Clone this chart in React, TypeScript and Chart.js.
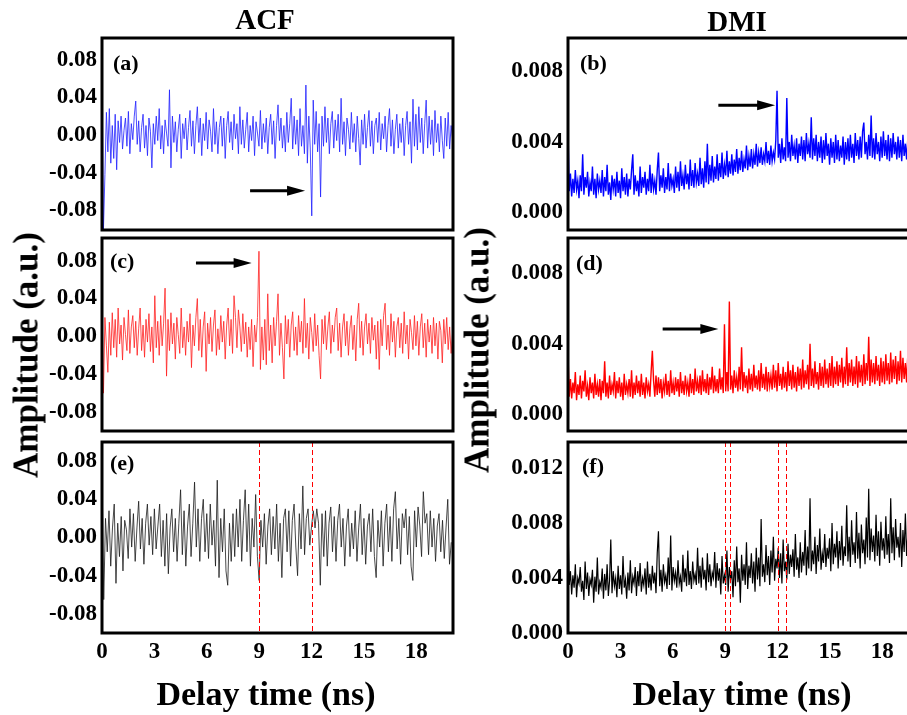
import React, { useEffect, useRef } from 'react';
import { Chart, registerables } from 'chart.js';

Chart.register(...registerables);

const FONT = "'Liberation Serif', 'Times New Roman', serif";

// ---------- axis ticks ----------
const TIME_TICKS = [0, 3, 6, 9, 12, 15, 18];
const ACF_TICKS = [-0.08, -0.04, 0, 0.04, 0.08];
const DMI_TICKS_BD = [0, 0.004, 0.008];
const DMI_TICKS_F = [0, 0.004, 0.008, 0.012];
const TIME_MAX = 20.1;

// ---------- sampling steps (ns per sample) ----------
const ACF_DT = 0.084;
const ACF_E_DT = 0.1;
const DMI_DT = 0.07;

// ---------- series values ----------
const ACF_A = [
  .070,-.100,-.042,.024,-.018,.028,-.030,.010,-.025,.022,
  -.037,.015,-.008,.020,-.015,.005,.018,-.012,.025,-.020,
  .012,-.005,.020,.036,-.010,.015,-.018,.008,.022,-.014,
  .010,-.022,.018,.004,-.035,.012,-.010,.020,-.006,.028,
  -.015,.010,-.020,.016,.002,-.012,.048,-.035,.020,-.008,
  .014,-.018,.006,.022,-.025,.012,-.004,.018,-.016,.008,
  .026,-.012,.015,-.020,.010,.030,-.008,.018,-.022,.012,
  -.006,.024,-.015,.016,.004,-.018,.028,-.010,.014,-.020,
  .008,.020,-.012,.018,-.025,.010,.025,-.008,.014,-.016,
  .022,-.004,.012,-.020,.030,-.010,.016,-.014,.006,.024,
  -.018,.010,-.006,.020,-.022,.014,.002,-.012,.026,-.015,
  .012,-.008,.018,-.020,.008,.022,-.010,.015,-.025,.010,
  .032,-.006,.018,-.014,.010,-.018,.024,-.008,.012,.039,
  -.015,.020,-.010,.016,-.022,.028,-.012,.010,-.020,.053,
  -.030,.020,-.015,-.086,.037,-.010,.025,-.018,.012,-.066,
  .020,-.012,.030,-.008,.018,-.020,.012,.025,-.014,.016,
  -.006,.022,-.018,.039,-.010,.014,-.022,.018,.006,-.015,
  .024,-.008,.012,-.018,.020,-.004,-.032,.016,-.010,.022,
  -.014,.008,.026,-.012,.015,-.020,.010,.018,-.008,.024,
  -.016,.012,-.004,.020,-.018,.010,.028,-.012,.016,-.020,
  .006,.022,-.014,.012,-.008,.018,-.022,.010,.025,-.010,
  .014,-.030,.038,-.012,.022,-.016,.030,-.008,.018,-.020,
  .012,.037,-.014,.020,-.010,.016,-.022,.026,-.008,.012,
  -.018,.020,-.006,-.025,.018,-.012,.024,-.015,.010,-.004,
];

const ACF_C = [
  .040,-.060,.020,-.010,-.038,.015,-.020,.025,-.012,.018,
  -.022,.030,-.008,.012,-.025,.020,.002,-.015,.028,-.018,
  .010,.022,-.012,.016,-.020,.008,.030,-.015,.012,-.022,
  .018,-.006,.024,-.016,.010,-.028,.043,-.012,.016,-.020,
  .022,-.010,.014,.051,-.042,.018,-.015,.025,-.008,.014,
  -.024,.020,.002,-.018,.030,-.012,.010,-.020,.016,-.006,
  .024,-.033,.012,-.010,.020,.040,-.015,.018,-.022,.010,
  .026,-.037,.014,-.008,.020,-.016,.012,.028,-.020,.008,
  -.014,.022,-.006,.016,-.024,.012,.030,-.010,.018,-.018,
  .043,.020,-.012,.028,.010,-.016,.024,-.008,.015,-.022,
  .010,-.014,.018,-.032,.012,-.006,.020,.090,-.035,.010,
  -.025,.018,-.030,.045,-.015,.012,-.028,.020,-.010,.016,
  .045,-.020,.014,-.012,-.045,.022,-.008,.018,-.022,.012,
  .026,-.015,.010,-.020,.022,-.006,.016,-.018,.040,-.012,
  .014,-.024,.020,.004,-.016,.024,-.010,.012,-.020,-.045,
  .018,-.008,.022,-.014,.010,.026,-.018,.012,-.006,.020,
  .030,-.015,.014,-.022,.010,.024,-.010,.016,-.020,.008,
  .022,-.014,.012,-.026,.018,.035,-.012,.016,-.020,.010,
  .024,-.008,.014,-.018,.020,-.004,.012,-.024,.016,-.035,
  .018,-.010,.022,.035,-.014,.012,-.020,.024,-.006,.016,
  -.022,.010,.020,-.012,.014,-.018,.026,-.008,.012,-.024,
  .018,.004,-.014,.022,-.010,.016,-.020,.010,.024,-.012,
  .014,-.022,.018,-.006,.012,-.018,.020,-.010,.014,-.024,
  .016,.006,-.028,.018,-.008,.020,-.014,.010,-.018,.004,
];

const ACF_E = [
  .070,-.065,.020,-.015,.028,-.030,.010,.035,-.048,.015,
  -.020,.022,-.035,.018,.008,-.022,.030,-.010,.025,-.025,
  .010,.038,-.012,.020,-.028,.015,.035,-.008,.022,-.018,
  .030,-.012,.012,.035,-.020,.018,-.030,.025,-.038,.010,
  .030,-.015,.020,-.025,.015,.050,-.018,.028,-.030,.012,
  .035,-.020,.015,.058,-.010,.030,-.025,.020,.040,-.015,
  .025,-.022,.035,-.008,.018,-.030,.060,-.042,.020,-.015,
  .030,-.035,-.050,.015,-.025,.025,-.020,.030,-.010,.040,
  -.025,.018,.050,-.015,.035,-.030,.020,-.010,.045,-.020,
  -.045,.018,-.010,.025,-.028,.012,.030,-.018,.022,-.012,
  .035,-.025,.015,-.042,.020,.030,-.015,.028,-.030,.018,
  .035,-.010,-.040,.025,-.012,.054,-.018,.020,.030,-.008,
  .012,.028,.010,.030,.015,-.050,.025,-.020,.028,-.030,
  .015,.032,-.015,.022,-.025,.018,.035,-.010,.020,-.030,
  .012,.030,-.020,.015,-.012,.028,-.025,.010,.035,-.018,
  .020,-.028,.012,.025,-.015,.030,-.020,-.042,.018,-.010,
  .028,-.030,.015,.035,-.015,.022,-.025,.030,.048,-.012,
  .020,-.028,.025,.010,.030,-.018,.022,-.030,-.045,.028,
  -.010,.032,.012,-.020,.048,.015,.025,-.018,.028,-.010,
  .020,-.025,.012,.025,-.015,.018,-.022,.010,.040,-.028,
  -.005,
];

const DMI_B = [
  .0047,.0012,.0022,.0009,.0019,.0011,.0024,.0013,.0018,.0008,
  .0021,.0012,.0033,.0010,.0020,.0014,.0023,.0009,.0017,.0012,
  .0026,.0010,.0019,.0008,.0022,.0013,.0018,.0011,.0024,.0009,
  .0020,.0012,.0027,.0010,.0017,.0007,.0021,.0013,.0019,.0009,
  .0023,.0011,.0018,.0008,.0025,.0012,.0020,.0010,.0022,.0009,
  .0019,.0013,.0024,.0033,.0010,.0021,.0012,.0018,.0009,.0026,
  .0011,.0020,.0014,.0023,.0010,.0019,.0012,.0027,.0011,.0022,
  .0013,.0018,.0010,.0024,.0034,.0012,.0021,.0014,.0025,.0011,
  .0020,.0013,.0028,.0012,.0022,.0015,.0019,.0011,.0026,.0014,
  .0023,.0012,.0029,.0015,.0021,.0013,.0027,.0016,.0022,.0013,
  .0030,.0015,.0024,.0014,.0028,.0017,.0022,.0015,.0031,.0016,
  .0025,.0014,.0029,.0017,.0039,.0016,.0027,.0018,.0032,.0017,
  .0026,.0019,.0033,.0018,.0028,.0020,.0034,.0019,.0027,.0021,
  .0035,.0020,.0029,.0022,.0033,.0021,.0030,.0023,.0036,.0022,
  .0031,.0024,.0035,.0023,.0030,.0025,.0038,.0024,.0032,.0026,
  .0036,.0025,.0033,.0027,.0039,.0026,.0034,.0028,.0037,.0027,
  .0033,.0029,.0040,.0028,.0035,.0027,.0038,.0029,.0034,.0030,
  .0041,.0069,.0031,.0039,.0028,.0042,.0030,.0037,.0029,.0065,
  .0031,.0040,.0029,.0044,.0032,.0038,.0030,.0042,.0028,.0039,
  .0032,.0043,.0030,.0041,.0029,.0045,.0033,.0039,.0031,.0054,
  .0030,.0042,.0032,.0044,.0029,.0040,.0031,.0043,.0028,.0041,
  .0030,.0045,.0032,.0039,.0027,.0042,.0031,.0040,.0028,.0044,
  .0030,.0041,.0029,.0038,.0031,.0043,.0027,.0040,.0030,.0042,
  .0029,.0044,.0031,.0039,.0028,.0045,.0032,.0041,.0030,.0043,
  .0031,.0046,.0051,.0033,.0040,.0030,.0044,.0032,.0055,.0031,
  .0042,.0030,.0045,.0033,.0040,.0029,.0043,.0031,.0046,.0032,
  .0041,.0030,.0044,.0029,.0042,.0031,.0045,.0033,.0040,.0030,
  .0043,.0031,.0041,.0029,.0044,.0032,.0039,.0030,.0042,.0028,
  .0040,.0031,.0043,.0029,.0038,.0030,.0041,.0032,
];

const DMI_D = [
  .0034,.0010,.0020,.0009,.0018,.0012,.0024,.0008,.0017,.0011,
  .0022,.0009,.0019,.0013,.0025,.0010,.0016,.0008,.0021,.0012,
  .0018,.0009,.0023,.0011,.0017,.0010,.0020,.0008,.0019,.0012,
  .0030,.0010,.0018,.0009,.0022,.0011,.0017,.0013,.0024,.0009,
  .0019,.0012,.0021,.0010,.0018,.0008,.0023,.0011,.0017,.0012,
  .0020,.0010,.0025,.0009,.0018,.0011,.0022,.0012,.0019,.0010,
  .0023,.0011,.0018,.0009,.0021,.0013,.0017,.0010,.0024,.0036,
  .0019,.0010,.0022,.0011,.0021,.0012,.0020,.0009,.0018,.0013,
  .0023,.0011,.0019,.0010,.0025,.0012,.0018,.0011,.0021,.0013,
  .0020,.0010,.0024,.0012,.0019,.0011,.0022,.0013,.0018,.0010,
  .0023,.0012,.0020,.0011,.0026,.0013,.0019,.0012,.0022,.0011,
  .0025,.0013,.0020,.0012,.0023,.0011,.0021,.0014,.0027,.0012,
  .0022,.0013,.0020,.0012,.0026,.0014,.0021,.0012,.0051,.0013,
  .0024,.0013,.0064,.0014,.0022,.0012,.0025,.0015,.0021,.0013,
  .0027,.0014,.0038,.0013,.0024,.0015,.0022,.0012,.0026,.0014,
  .0023,.0013,.0028,.0015,.0022,.0014,.0025,.0013,.0029,.0015,
  .0023,.0014,.0027,.0013,.0024,.0016,.0022,.0014,.0028,.0015,
  .0025,.0013,.0029,.0016,.0023,.0014,.0027,.0015,.0024,.0013,
  .0030,.0016,.0025,.0014,.0028,.0015,.0024,.0013,.0027,.0016,
  .0026,.0014,.0031,.0015,.0025,.0017,.0028,.0014,.0040,.0016,
  .0026,.0015,.0030,.0017,.0024,.0014,.0029,.0016,.0027,.0015,
  .0031,.0017,.0026,.0015,.0029,.0016,.0033,.0015,.0027,.0017,
  .0030,.0016,.0028,.0018,.0032,.0015,.0027,.0017,.0038,.0016,
  .0029,.0018,.0031,.0016,.0027,.0017,.0033,.0015,.0030,.0018,
  .0028,.0016,.0034,.0017,.0029,.0019,.0044,.0016,.0031,.0018,
  .0029,.0017,.0033,.0019,.0028,.0016,.0032,.0018,.0030,.0017,
  .0034,.0019,.0029,.0017,.0035,.0018,.0031,.0020,.0033,.0017,
  .0030,.0019,.0036,.0018,.0032,.0020,.0029,.0018,.0034,.0019,
  .0031,.0017,.0035,.0020,.0030,.0018,.0033,.0019,
];

const DMI_F = [
  .0080,.0035,.0045,.0028,.0042,.0033,.0050,.0026,.0040,.0036,
  .0048,.0030,.0038,.0024,.0052,.0032,.0044,.0027,.0039,.0035,
  .0046,.0022,.0041,.0030,.0055,.0028,.0037,.0033,.0047,.0025,
  .0043,.0031,.0050,.0027,.0038,.0068,.0029,.0045,.0034,.0040,
  .0026,.0049,.0032,.0042,.0028,.0056,.0033,.0039,.0025,.0044,
  .0031,.0053,.0029,.0041,.0036,.0048,.0027,.0045,.0034,.0051,
  .0030,.0040,.0035,.0047,.0028,.0052,.0033,.0043,.0031,.0049,
  .0036,.0044,.0029,.0058,.0074,.0034,.0046,.0030,.0050,.0037,
  .0042,.0032,.0055,.0035,.0071,.0031,.0048,.0038,.0044,.0033,
  .0053,.0036,.0041,.0030,.0057,.0037,.0047,.0034,.0060,.0035,
  .0045,.0032,.0052,.0038,.0043,.0035,.0062,.0036,.0049,.0033,
  .0055,.0039,.0046,.0031,.0058,.0037,.0050,.0034,.0044,.0040,
  .0059,.0033,.0051,.0038,.0047,.0028,.0056,.0036,.0042,.0035,
  .0060,.0030,.0048,.0039,.0045,.0026,.0053,.0034,.0063,.0037,
  .0047,.0022,.0057,.0038,.0050,.0035,.0066,.0032,.0049,.0040,
  .0058,.0036,.0052,.0030,.0062,.0039,.0055,.0034,.0083,.0041,
  .0050,.0037,.0064,.0042,.0056,.0035,.0060,.0044,.0070,.0038,
  .0054,.0047,.0062,.0040,.0058,.0036,.0068,.0045,.0052,.0039,
  .0065,.0043,.0057,.0048,.0061,.0041,.0072,.0046,.0055,.0040,
  .0066,.0044,.0059,.0049,.0075,.0042,.0063,.0047,.0098,.0045,
  .0060,.0050,.0070,.0043,.0064,.0052,.0076,.0046,.0058,.0051,
  .0072,.0048,.0062,.0054,.0069,.0045,.0080,.0050,.0065,.0055,
  .0074,.0047,.0067,.0053,.0078,.0049,.0063,.0056,.0093,.0052,
  .0070,.0048,.0082,.0057,.0066,.0051,.0088,.0054,.0073,.0047,
  .0079,.0058,.0068,.0050,.0084,.0055,.0105,.0053,.0076,.0059,
  .0071,.0052,.0086,.0056,.0074,.0049,.0081,.0060,.0069,.0054,
  .0085,.0057,.0072,.0051,.0098,.0058,.0077,.0053,.0083,.0062,
  .0070,.0055,.0080,.0048,.0075,.0059,.0087,.0056,.0072,.0061,
  .0082,.0054,.0078,.0060,.0091,.0057,.0074,.0058,
];

// ---------- annotations: arrows [xStart, xEnd, y], dashed marker times ----------
const ARROW_A = [8.48, 11.63, -0.0594];
const ARROW_B = [8.61, 11.86, 0.00608];
const ARROW_C = [5.38, 8.57, 0.0776];
const ARROW_D = [5.42, 8.61, 0.00484];
const MARKS_E = [9, 12];
const MARKS_F = [9, 9.3, 12, 12.5];

type PanelCfg = {
  values: number[];
  dt: number;
  color: string;
  lineWidth: number;
  plotLeft: number;
  plotTop: number;
  plotW: number;
  plotH: number;
  yMin: number;
  yMax: number;
  yTicks: number[];
  decimals: number;
  showX: boolean;
  label: string;
  labelDx: number;
  labelDy: number;
  arrow?: number[];
  marks?: number[];
};

const YW = 90;
const PT = 22;
const PR = 18;

const LEFT_X = 102;
const RIGHT_X = 568;
const PW = 351;

const PANELS: PanelCfg[] = [
  { values: ACF_A, dt: ACF_DT, color: '#1f1fff', lineWidth: 0.8, plotLeft: LEFT_X, plotTop: 38, plotW: PW, plotH: 192,
    yMin: -0.101, yMax: 0.103, yTicks: ACF_TICKS, decimals: 2, showX: false, label: '(a)', labelDx: 11, labelDy: 32, arrow: ARROW_A },
  { values: DMI_B, dt: DMI_DT, color: '#0000ff', lineWidth: 1.4, plotLeft: RIGHT_X, plotTop: 38, plotW: PW, plotH: 192,
    yMin: -0.001, yMax: 0.0099, yTicks: DMI_TICKS_BD, decimals: 3, showX: false, label: '(b)', labelDx: 12, labelDy: 32, arrow: ARROW_B },
  { values: ACF_C, dt: ACF_DT, color: '#ff1f1f', lineWidth: 0.8, plotLeft: LEFT_X, plotTop: 238, plotW: PW, plotH: 193,
    yMin: -0.1, yMax: 0.104, yTicks: ACF_TICKS, decimals: 2, showX: false, label: '(c)', labelDx: 8, labelDy: 30, arrow: ARROW_C },
  { values: DMI_D, dt: DMI_DT, color: '#ff0000', lineWidth: 1.4, plotLeft: RIGHT_X, plotTop: 238, plotW: PW, plotH: 193,
    yMin: -0.00095, yMax: 0.01, yTicks: DMI_TICKS_BD, decimals: 3, showX: false, label: '(d)', labelDx: 8, labelDy: 32, arrow: ARROW_D },
  { values: ACF_E, dt: ACF_E_DT, color: '#1a1a1a', lineWidth: 0.8, plotLeft: LEFT_X, plotTop: 442, plotW: PW, plotH: 191,
    yMin: -0.1, yMax: 0.1, yTicks: ACF_TICKS, decimals: 2, showX: true, label: '(e)', labelDx: 8, labelDy: 28, marks: MARKS_E },
  { values: DMI_F, dt: DMI_DT, color: '#000000', lineWidth: 1.2, plotLeft: RIGHT_X, plotTop: 442, plotW: PW, plotH: 191,
    yMin: 0, yMax: 0.0139, yTicks: DMI_TICKS_F, decimals: 3, showX: true, label: '(f)', labelDx: 14, labelDy: 31, marks: MARKS_F },
];

function Panel({ cfg }: { cfg: PanelCfg }) {
  const ref = useRef<HTMLCanvasElement>(null);
  const XH = cfg.showX ? 44 : 22;
  const cw = YW + cfg.plotW + PR;
  const ch = PT + cfg.plotH + XH;

  useEffect(() => {
    if (!ref.current) return;
    const points = cfg.values.map((y, i) => ({ x: i * cfg.dt, y }));
    const tickFont = { family: FONT, size: 23, weight: 'bold' as const };
    const decor = {
      id: 'decor',
      afterDatasetsDraw(chart: any) {
        const { ctx, chartArea: a, scales } = chart;
        const xs = scales.x;
        const ys = scales.y;
        ctx.save();
        if (cfg.marks) {
          ctx.strokeStyle = '#ff0000';
          ctx.lineWidth = 1;
          ctx.setLineDash([5, 3]);
          for (const m of cfg.marks) {
            const px = Math.round(xs.getPixelForValue(m)) + 0.5;
            ctx.beginPath();
            ctx.moveTo(px, a.top);
            ctx.lineTo(px, a.bottom);
            ctx.stroke();
          }
          ctx.setLineDash([]);
        }
        if (cfg.arrow) {
          const [x0, x1, y] = cfg.arrow;
          const p0 = xs.getPixelForValue(x0);
          const p1 = xs.getPixelForValue(x1);
          const py = ys.getPixelForValue(y);
          ctx.strokeStyle = '#000';
          ctx.fillStyle = '#000';
          ctx.lineWidth = 3;
          ctx.beginPath();
          ctx.moveTo(p0, py);
          ctx.lineTo(p1 - 14, py);
          ctx.stroke();
          ctx.beginPath();
          ctx.moveTo(p1, py);
          ctx.lineTo(p1 - 18, py - 5);
          ctx.lineTo(p1 - 18, py + 5);
          ctx.closePath();
          ctx.fill();
        }
        ctx.fillStyle = '#000';
        ctx.font = `bold 22px ${FONT}`;
        ctx.textAlign = 'left';
        ctx.textBaseline = 'alphabetic';
        ctx.fillText(cfg.label, a.left + cfg.labelDx, a.top + cfg.labelDy);
        ctx.strokeStyle = '#000';
        ctx.lineWidth = 3;
        ctx.strokeRect(a.left, a.top, a.right - a.left, a.bottom - a.top);
        ctx.restore();
      },
    };

    const chart = new Chart(ref.current, {
      type: 'line',
      data: {
        datasets: [
          {
            data: points,
            borderColor: cfg.color,
            borderWidth: cfg.lineWidth,
            pointRadius: 0,
            tension: 0,
            fill: false,
          },
        ],
      },
      options: {
        animation: false,
        responsive: false,
        maintainAspectRatio: false,
        devicePixelRatio: 1,
        events: [],
        layout: { padding: { top: PT, right: PR, left: 0, bottom: 0 } },
        plugins: { legend: { display: false }, tooltip: { enabled: false } },
        scales: {
          x: {
            type: 'linear',
            min: 0,
            max: TIME_MAX,
            grid: { display: false, drawTicks: false },
            border: { display: false },
            ticks: {
              display: cfg.showX,
              font: tickFont,
              color: '#000',
              padding: 5,
              autoSkip: false,
              maxRotation: 0,
              callback: (v: any) => String(v),
            },
            afterBuildTicks: (s: any) => {
              s.ticks = TIME_TICKS.map((v) => ({ value: v }));
            },
            afterFit: (s: any) => {
              s.height = XH;
            },
          },
          y: {
            type: 'linear',
            min: cfg.yMin,
            max: cfg.yMax,
            grid: { display: false, drawTicks: false },
            border: { display: false },
            ticks: {
              font: tickFont,
              color: '#000',
              padding: 5,
              autoSkip: false,
              callback: (v: any) => Number(v).toFixed(cfg.decimals),
            },
            afterBuildTicks: (s: any) => {
              s.ticks = cfg.yTicks.map((v) => ({ value: v }));
            },
            afterFit: (s: any) => {
              s.width = YW;
            },
          },
        },
      } as any,
      plugins: [decor],
    });
    return () => chart.destroy();
  }, []);

  return (
    <canvas
      ref={ref}
      width={cw}
      height={ch}
      style={{
        position: 'absolute',
        left: cfg.plotLeft - YW,
        top: cfg.plotTop - PT,
        width: cw,
        height: ch,
      }}
    />
  );
}

const textBase: React.CSSProperties = {
  position: 'absolute',
  fontFamily: FONT,
  fontWeight: 'bold',
  lineHeight: 1,
  whiteSpace: 'nowrap',
  color: '#000',
};

function HText({ text, cx, top, size }: { text: string; cx: number; top: number; size: number }) {
  return (
    <div style={{ ...textBase, left: cx, top, fontSize: size, transform: 'translateX(-50%)' }}>{text}</div>
  );
}

function VText({ text, cx, cy, size }: { text: string; cx: number; cy: number; size: number }) {
  return (
    <div
      style={{
        ...textBase,
        left: cx,
        top: cy,
        fontSize: size,
        transform: 'translate(-50%, -50%) rotate(-90deg)',
      }}
    >
      {text}
    </div>
  );
}

export default function App() {
  return (
    <div
      style={{
        position: 'absolute',
        left: 0,
        top: 0,
        width: 907,
        height: 715,
        overflow: 'hidden',
        background: '#fff',
      }}
    >
      {PANELS.map((p, i) => (
        <Panel key={i} cfg={p} />
      ))}
      <HText text="ACF" cx={265} top={5} size={29} />
      <HText text="DMI" cx={737} top={7} size={29} />
      <HText text="Delay time (ns)" cx={266} top={677} size={34} />
      <HText text="Delay time (ns)" cx={742} top={677} size={34} />
      <VText text="Amplitude (a.u.)" cx={26} cy={355} size={35} />
      <VText text="Amplitude (a.u.)" cx={477} cy={350} size={35} />
    </div>
  );
}
